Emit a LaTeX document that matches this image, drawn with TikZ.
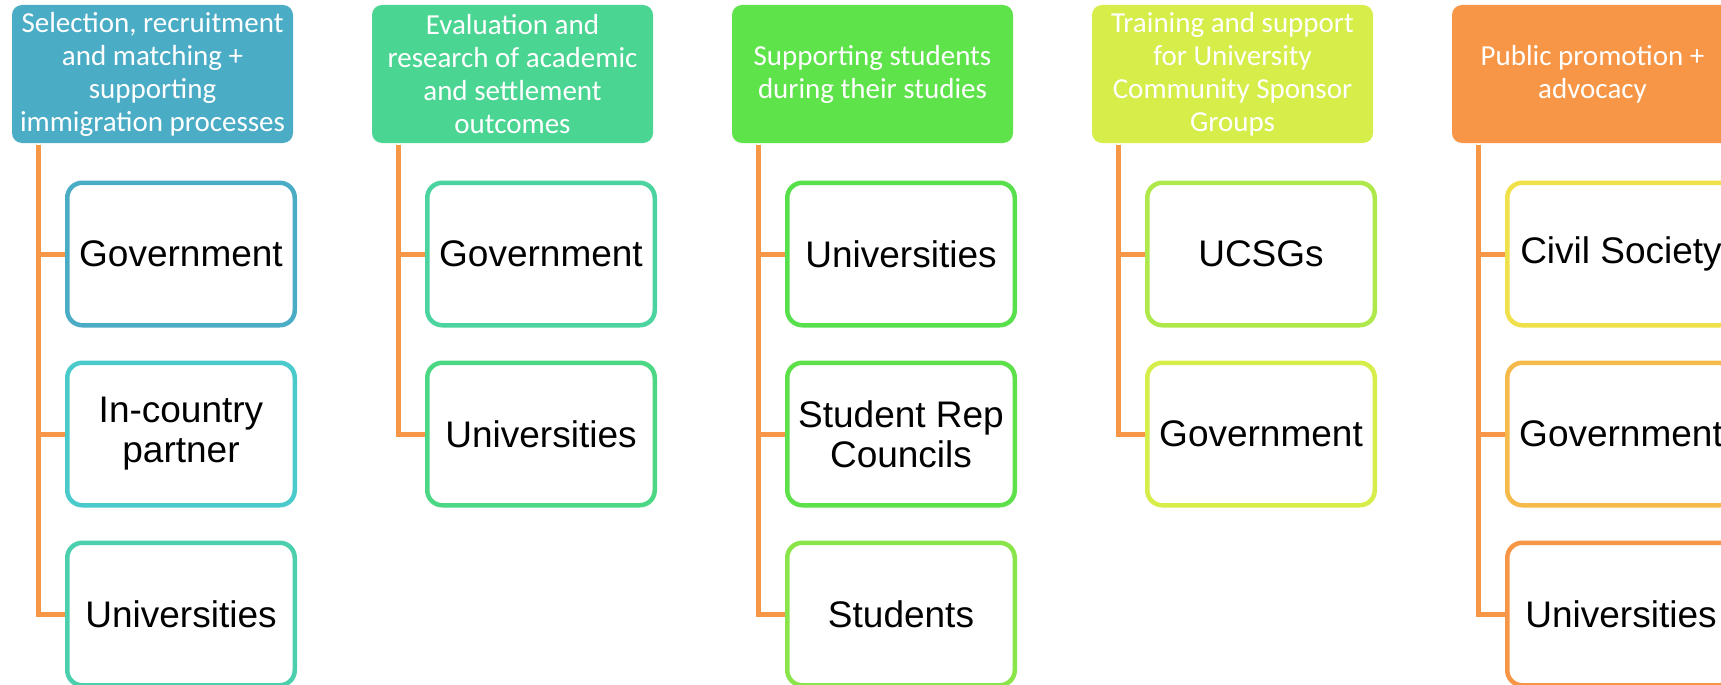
\documentclass[tikz,border=0pt]{standalone}
\usepackage{fontspec}
\newfontfamily\hdrfont{Carlito}
\newfontfamily\boxfont{Liberation Sans}
\definecolor{conn}{HTML}{F79646}
\definecolor{hA}{HTML}{4BACC6}
\definecolor{hB}{HTML}{4BD592}
\definecolor{hC}{HTML}{5EE34A}
\definecolor{hD}{HTML}{D6ED4A}
\definecolor{hE}{HTML}{F79646}
\definecolor{bAa}{HTML}{4BACC6}
\definecolor{bAb}{HTML}{4BCACB}
\definecolor{bAc}{HTML}{4BCFAD}
\definecolor{bBa}{HTML}{4BD3A0}
\definecolor{bBb}{HTML}{4BD784}
\definecolor{bCa}{HTML}{58DF4C}
\definecolor{bCb}{HTML}{5EE04A}
\definecolor{bCc}{HTML}{8AE54A}
\definecolor{bDa}{HTML}{AEE84A}
\definecolor{bDb}{HTML}{D6ED4A}
\definecolor{bEa}{HTML}{F0E14A}
\definecolor{bEb}{HTML}{F6BA4A}
\definecolor{bEc}{HTML}{F79646}
\begin{document}
\begin{tikzpicture}[x=1pt,y=-1pt,
  hdr/.style={rounded corners=10pt, minimum width=281pt, minimum height=138pt,
    inner sep=0pt, text=white, align=center,
    font=\hdrfont\fontsize{29}{33}\selectfont},
  itembox/.style={draw, line width=4.5pt, rounded corners=15pt, fill=white,
    minimum width=227.5pt, minimum height=142.5pt, inner sep=0pt,
    align=center, text=black, font=\boxfont\fontsize{37}{40}\selectfont},
  link/.style={draw=conn, line width=5pt}]
\useasboundingbox (0,0) rectangle (1721,685);
% column 1
\node[hdr, fill=hA] (h1) at (152.5,74) {Selection, recruitment\\and matching +\\supporting\\immigration processes};
\node[itembox, draw=bAa] (b11) at (181,254) {Government};
\node[itembox, draw=bAb] (b12) at (181,434) {In-country\\partner};
\node[itembox, draw=bAc] (b13) at (181,614) {Universities};
% column 2
\node[hdr, fill=hB] (h2) at (512.5,74) {Evaluation and\\research of academic\\and settlement\\outcomes};
\node[itembox, draw=bBa] (b21) at (541,254) {Government};
\node[itembox, draw=bBb] (b22) at (541,434) {Universities};
% column 3
\node[hdr, fill=hC] (h3) at (872.5,74) {Supporting students\\during their studies};
\node[itembox, draw=bCa] (b31) at (901,254) {Universities};
\node[itembox, draw=bCb] (b32) at (901,434) {Student Rep\\Councils};
\node[itembox, draw=bCc] (b33) at (901,614) {Students};
% column 4
\node[hdr, fill=hD] (h4) at (1232.5,74) {Training and support\\for University\\Community Sponsor\\Groups};
\node[itembox, draw=bDa] (b41) at (1261,254) {UCSGs};
\node[itembox, draw=bDb] (b42) at (1261,434) {Government};
% column 5
\node[hdr, fill=hE] (h5) at (1592.5,74) {Public promotion +\\advocacy};
\node[itembox, draw=bEa] (b51) at (1621,254) {Civil Society};
\node[itembox, draw=bEb] (b52) at (1621,434) {Government};
\node[itembox, draw=bEc] (b53) at (1621,614) {Universities};
% connectors
\coordinate (t1) at (38.5,145);
\coordinate (t2) at (398.5,145);
\coordinate (t3) at (758.5,145);
\coordinate (t4) at (1118.5,145);
\coordinate (t5) at (1478.5,145);
\path[link] (t1) |- (b13.west);
\path[link] (t1 |- b11.west) -- (b11.west);
\path[link] (t1 |- b12.west) -- (b12.west);
\path[link] (t2) |- (b22.west);
\path[link] (t2 |- b21.west) -- (b21.west);
\path[link] (t3) |- (b33.west);
\path[link] (t3 |- b31.west) -- (b31.west);
\path[link] (t3 |- b32.west) -- (b32.west);
\path[link] (t4) |- (b42.west);
\path[link] (t4 |- b41.west) -- (b41.west);
\path[link] (t5) |- (b53.west);
\path[link] (t5 |- b51.west) -- (b51.west);
\path[link] (t5 |- b52.west) -- (b52.west);
\end{tikzpicture}
\end{document}
